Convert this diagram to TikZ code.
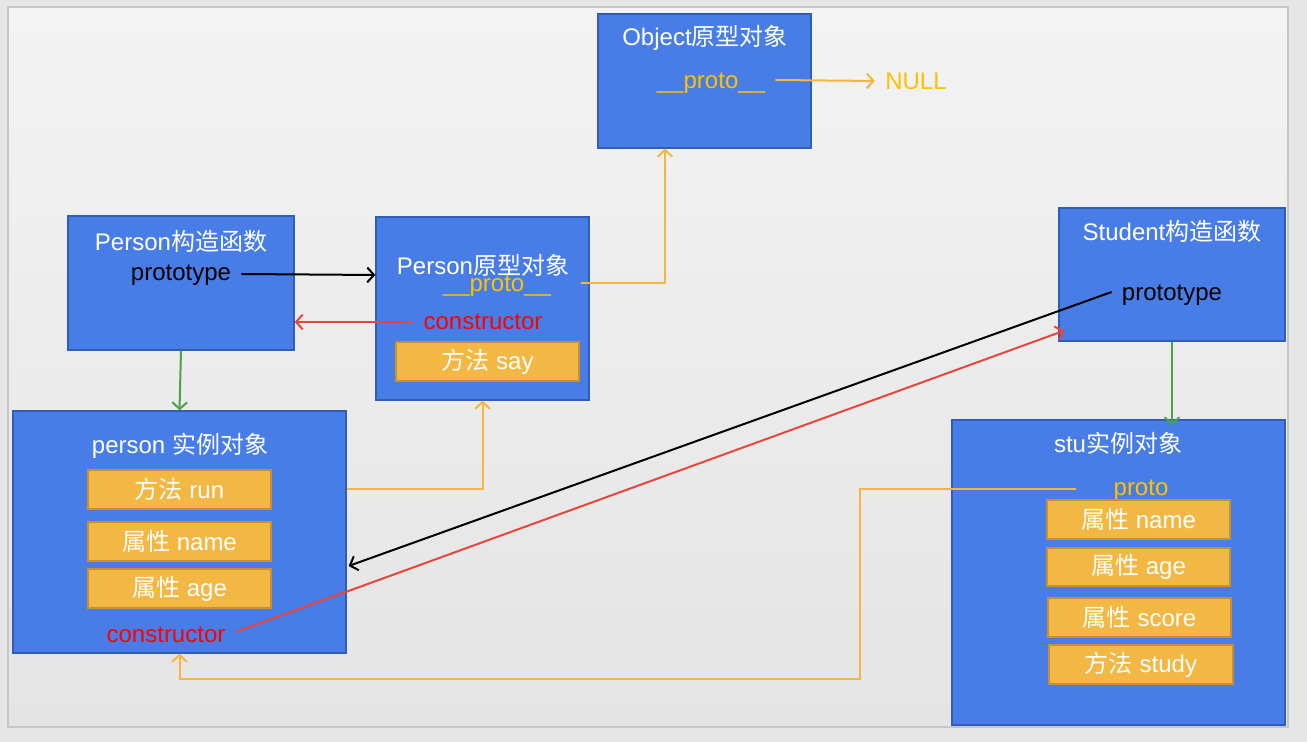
\documentclass[tikz,border=0pt]{standalone}
\usepackage{fontspec}
\setmainfont{Liberation Sans}
\newfontfamily\cjk{Noto Sans CJK SC}
\usetikzlibrary{positioning,arrows.meta,calc}
\definecolor{boxblue}{HTML}{487DE8}
\definecolor{boxedge}{HTML}{2F5DB8}
\definecolor{slot}{HTML}{F2B843}
\definecolor{slotedge}{HTML}{C9912E}
\definecolor{protoline}{HTML}{F4B63E}
\definecolor{prototext}{HTML}{FFC000}
\definecolor{ctorred}{HTML}{E8453C}
\definecolor{ctortext}{HTML}{FF0000}
\definecolor{newgreen}{HTML}{4BA24B}
\definecolor{pagebg}{HTML}{E6E6E6}
\definecolor{paneltop}{HTML}{F3F3F3}
\definecolor{panelbot}{HTML}{E5E4E5}
\definecolor{paneledge}{HTML}{C6C6C6}
\newcommand{\zh}[1]{{\cjk #1}}

\begin{document}
\begin{tikzpicture}[x=0.5pt, y=-0.5pt,
  font=\fontsize{12}{14}\selectfont,
  objbox/.style={draw=boxedge, fill=boxblue, line width=0.6pt, inner sep=0pt},
  slotbox/.style={draw=slotedge, fill=slot, line width=0.6pt, inner sep=0pt,
              minimum width=91.5pt, minimum height=19.5pt, text=white},
  titletxt/.style={text=white, inner sep=0pt},
  keytxt/.style={text=black, inner sep=0pt},
  prototxt/.style={text=prototext, inner sep=0pt},
  ctortxt/.style={text=ctortext, inner sep=0pt},
  link/.style={line width=1pt, -{Straight Barb[length=1.2mm,width=2.6mm]}}
]
\useasboundingbox (0,0) rectangle (1307,742);
\fill[pagebg] (0,0) rectangle (1307,742);
\shade[top color=paneltop, bottom color=panelbot, draw=paneledge, line width=0.6pt]
  (8,7) rectangle (1288,727);

\node[objbox, minimum width=106.5pt, minimum height=67pt] (obj) at (704.5,81) {};
\node[objbox, minimum width=113pt, minimum height=67pt] (pctor) at (181,283) {};
\node[objbox, minimum width=106.5pt, minimum height=91.5pt] (ppbox) at (482.5,308.5) {};
\node[objbox, minimum width=166.5pt, minimum height=121pt] (pinst) at (179.5,532) {};
\node[objbox, minimum width=113pt, minimum height=66.5pt] (sctor) at (1172,274.5) {};
\node[objbox, minimum width=166.5pt, minimum height=152.5pt] (sinst) at (1118.5,572.5) {};

\node[titletxt] (objtitle) at (705,38) {Object\zh{原型对象}};
\node[prototxt] (oproto) at (711,83) {\_\_proto\_\_};
\node[prototxt] (null) at (916,81) {NULL};

\node[titletxt] (pctortitle) at (181,241) {Person\zh{构造函数}};
\node[keytxt] (pproto) at (181,275) {prototype};

\node[titletxt] (pptitle) at (483,265) {Person\zh{原型对象}};
\node[prototxt] (ppproto) at (497,286) {\_\_proto\_\_};
\node[ctortxt] (ppcons) at (483,322) {constructor};
\node[slotbox] (say) at (487.5,361.5) {\zh{方法} say};

\node[titletxt] (pinsttitle) at (180,446) {person \zh{实例对象}};
\node[slotbox] (run) at (179.5,489.5) {\zh{方法} run};
\node[slotbox] (pname) at (179.5,541.5) {\zh{属性} name};
\node[slotbox] (page) at (179.5,588.5) {\zh{属性} age};
\node[ctortxt] (picons) at (166,635) {constructor};

\node[titletxt] (sctortitle) at (1172,231) {Student\zh{构造函数}};
\node[keytxt] (sproto) at (1172,295) {prototype};

\node[titletxt] (sinsttitle) at (1118,443) {stu\zh{实例对象}};
\node[prototxt] (sinstproto) at (1141,490) {proto};
\node[slotbox] (sname) at (1138.5,519.5) {\zh{属性} name};
\node[slotbox, minimum height=19pt] (sage) at (1138.5,567) {\zh{属性} age};
\node[slotbox] (sscore) at (1139.5,617.5) {\zh{属性} score};
\node[slotbox, minimum width=92pt] (sstudy) at (1141,664.5) {\zh{方法} study};

\draw[link, protoline] ($(oproto.east)+(10,-3)$) -- ($(null.west)+(-10,0)$);
\draw[link, black] ($(pproto.east)+(10,-1)$) -- (pproto.east -| ppbox.west);
\draw[link, ctorred] ($(ppcons.west)+(-10,0)$) -- (ppcons.west -| pctor.east);
\draw[link, protoline] ($(ppbox.east |- ppproto)+(-9,-3)$) -| ($(obj.south)+(-39.5,0)$);
\draw[link, protoline] (run -| pinst.east) -| (ppbox.south);
\draw[link, newgreen] (pctor.south) -- (pinst.north);
\draw[link, newgreen] (sctor.south) -- ($(sctor.south |- sinst.north)+(0,6)$);
\draw[link, black] ($(sproto.west)+(-10,-3)$) -- ($(pinst.east)+(2,34)$);
\draw[link, ctorred] ($(picons.east)+(10,-3)$) -- ($(sctor.south west)+(6,-11)$);
\draw[link, protoline] ($(sinstproto.west)+(-37,-1)$) -- ++(-216,0)
  |- ($(pinst.south)+(0,25)$) -- (pinst.south);
\end{tikzpicture}
\end{document}
